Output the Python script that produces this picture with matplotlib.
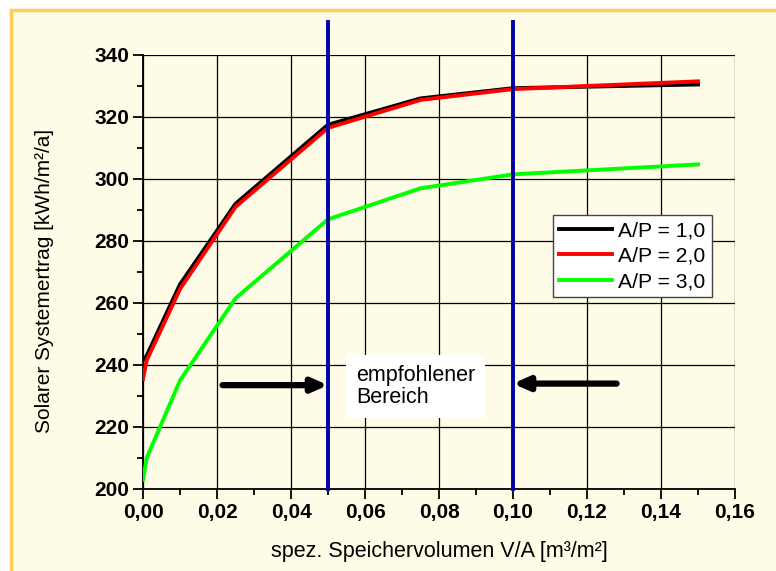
import matplotlib
matplotlib.use("Agg")
import matplotlib.pyplot as plt
from matplotlib.ticker import MultipleLocator, FuncFormatter
from matplotlib.patches import Rectangle

# data
x_vals = [0.0, 0.001, 0.01, 0.025, 0.05, 0.075, 0.10, 0.15]
ap_10 = [241.5, 243.0, 266.0, 292.0, 317.5, 326.0, 329.3, 330.5]
ap_20 = [235.5, 241.5, 264.5, 291.0, 316.5, 325.5, 329.0, 331.5]
ap_30 = [203.0, 210.0, 235.0, 261.5, 287.0, 297.0, 301.5, 304.7]
series_labels = ["A/P = 1,0", "A/P = 2,0", "A/P = 3,0"]
series_colors = ["#000000", "#ff0000", "#00ff00"]
range_bounds = [0.05, 0.10]
range_text = "empfohlener\nBereich"

plt.rcParams["font.family"] = ["Liberation Sans", "DejaVu Sans"]

bg = "#fefbe6"
fig = plt.figure(figsize=(7.76, 5.71), dpi=100, facecolor="white")
# cream panel with orange frame (only top and left edges visible)
fig.patches.append(Rectangle((11 / 776, -0.1), 1.1, 1.1 - 10 / 571, transform=fig.transFigure,
                             facecolor=bg, edgecolor="#ffcc55", linewidth=2.5, zorder=-10))

ax = fig.add_axes([143 / 776, 1 - 489 / 571, 592 / 776, 434 / 571])
ax.set_zorder(2)
ax.set_facecolor(bg)

for ys, lab, col in zip([ap_10, ap_20, ap_30], series_labels, series_colors):
    ax.plot(x_vals, ys, color=col, lw=2.8, label=lab, zorder=3)

ax.set_xlim(0, 0.16)
ax.set_ylim(200, 340)
ax.xaxis.set_major_locator(MultipleLocator(0.02))
ax.xaxis.set_minor_locator(MultipleLocator(0.01))
ax.yaxis.set_major_locator(MultipleLocator(20))
ax.yaxis.set_minor_locator(MultipleLocator(10))
ax.xaxis.set_major_formatter(FuncFormatter(lambda v, p: f"{v:.2f}".replace(".", ",")))
ax.yaxis.set_major_formatter(FuncFormatter(lambda v, p: f"{v:.0f}"))

ax.grid(True, which="major", color="black", lw=0.9, zorder=1)
for s in ["top", "right"]:
    ax.spines[s].set_visible(False)
for s in ["left", "bottom"]:
    ax.spines[s].set_linewidth(1.3)
ax.tick_params(which="major", direction="out", length=7, width=1.3, labelsize=15, pad=3)
ax.tick_params(which="minor", direction="out", length=4, width=1.3)
for t in ax.get_xticklabels() + ax.get_yticklabels():
    t.set_fontweight("bold")

ax.set_xlabel("spez. Speichervolumen V/A [m³/m²]", fontsize=15.5)
ax.set_ylabel("Solarer Systemertrag [kWh/m²/a]", fontsize=15)
ax.xaxis.set_label_coords(0.5, -0.12)
ax.yaxis.set_label_coords(-0.150, 0.479)

# recommended range
for xb in range_bounds:
    ax.plot([xb, xb], [0, 1.076], transform=ax.get_xaxis_transform(), color="#0000a8",
            lw=2.8, clip_on=False, zorder=4)

ax.text(0.0575, 233.0, range_text, fontsize=15.5, ha="left", va="center", zorder=5,
        linespacing=1.1,
        bbox=dict(boxstyle="square,pad=0.45", facecolor="white", edgecolor="none"))

arrow_kw = dict(arrowstyle="-|>,head_length=0.9,head_width=0.4", color="black", lw=4.5,
                shrinkA=0, shrinkB=0)
ax.annotate("", xy=(range_bounds[0], 233.5), xytext=(0.0215, 233.5), arrowprops=arrow_kw, zorder=5)
ax.annotate("", xy=(range_bounds[1], 234.0), xytext=(0.128, 234.0), arrowprops=arrow_kw, zorder=5)

leg = ax.legend(loc="upper left", bbox_to_anchor=(553 / 776, 1 - 215 / 571),
                bbox_transform=fig.transFigure, fontsize=15.2, frameon=True, fancybox=False,
                handlelength=2.5, handletextpad=0.3, borderpad=0.3, labelspacing=0.3,
                borderaxespad=0)
leg.get_frame().set_edgecolor("#444444")
leg.get_frame().set_linewidth(1.0)
leg.get_frame().set_alpha(1)

fig.savefig("out.png", dpi=100, facecolor=fig.get_facecolor())
